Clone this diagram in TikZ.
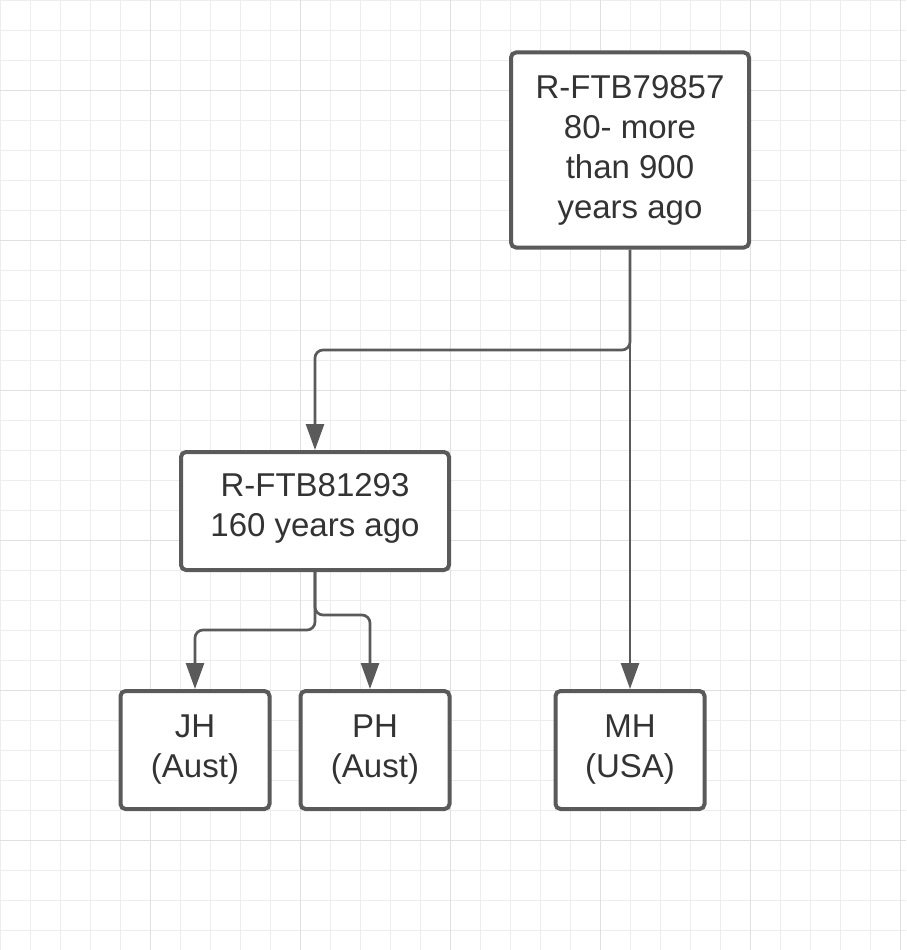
\documentclass[tikz,border=0pt]{standalone}
\usepackage{fontspec}
\setmainfont{Liberation Sans}
\usetikzlibrary{arrows.meta,calc}
\definecolor{edgegray}{HTML}{5A5A5A}
\definecolor{txtgray}{HTML}{333333}
\definecolor{minorgrid}{HTML}{EDEDED}
\definecolor{majorgrid}{HTML}{E0E0E0}
\tikzset{
  boxtext/.style={text=txtgray, align=center, inner sep=0pt,
    font=\fontsize{33}{40}\selectfont},
  box/.style={draw=edgegray, line width=4pt, rounded corners=5pt, fill=white,
    boxtext},
  conn/.style={draw=edgegray, line width=2.7pt, rounded corners=8pt,
    -{Triangle[length=26pt,width=18pt]}},
  minorline/.style={draw=minorgrid, line width=1pt},
  majorline/.style={draw=majorgrid, line width=1pt}
}
\begin{document}
\begin{tikzpicture}[x=1pt,y=-1pt]
\useasboundingbox (0,0) rectangle (906,950);
\fill[white] (0,0) rectangle (906,950);
\foreach \x in {0,30,...,900} \draw[minorline] (\x+0.5,0) -- (\x+0.5,950);
\foreach \y in {0,30,...,930} \draw[minorline] (0,\y+0.5) -- (906,\y+0.5);
\foreach \x in {150,300,...,900} \draw[majorline] (\x+0.5,0) -- (\x+0.5,950);
\foreach \y in {90,240,...,840} \draw[majorline] (0,\y+0.5) -- (906,\y+0.5);

\node[box, minimum width=238pt, minimum height=195pt] (top) at (630,150)
  {R-FTB79857\\80- more\\than 900\\years ago};
\node[box, minimum width=268pt, minimum height=118pt,
  label={[boxtext, yshift=3pt]center:{R-FTB81293\\160 years ago}}] (mid) at (315,511) {};
\node[box, minimum width=149pt, minimum height=118pt] (jh) at (195,750)
  {JH\\(Aust)};
\node[box, minimum width=149pt, minimum height=118pt] (ph) at (375,750)
  {PH\\(Aust)};
\node[box, minimum width=149pt, minimum height=118pt] (mh) at (630,750)
  {MH\\(USA)};

\coordinate (b1) at (630,350);
\coordinate (b2) at (315,350);
\coordinate (c1) at (315,630);
\coordinate (c2) at (195,630);
\coordinate (d1) at (315,615);
\coordinate (d2) at (370,615);

\draw[conn] (top.south) -- (mh.north);
\draw[conn] (top.south) -- (b1) -- (b2) -- (mid.north);
\draw[conn] (mid.south) -- (c1) -- (c2) -- (jh.north);
\draw[conn] (mid.south) -- (d1) -- (d2) -- (d2 |- ph.north);
\end{tikzpicture}
\end{document}
